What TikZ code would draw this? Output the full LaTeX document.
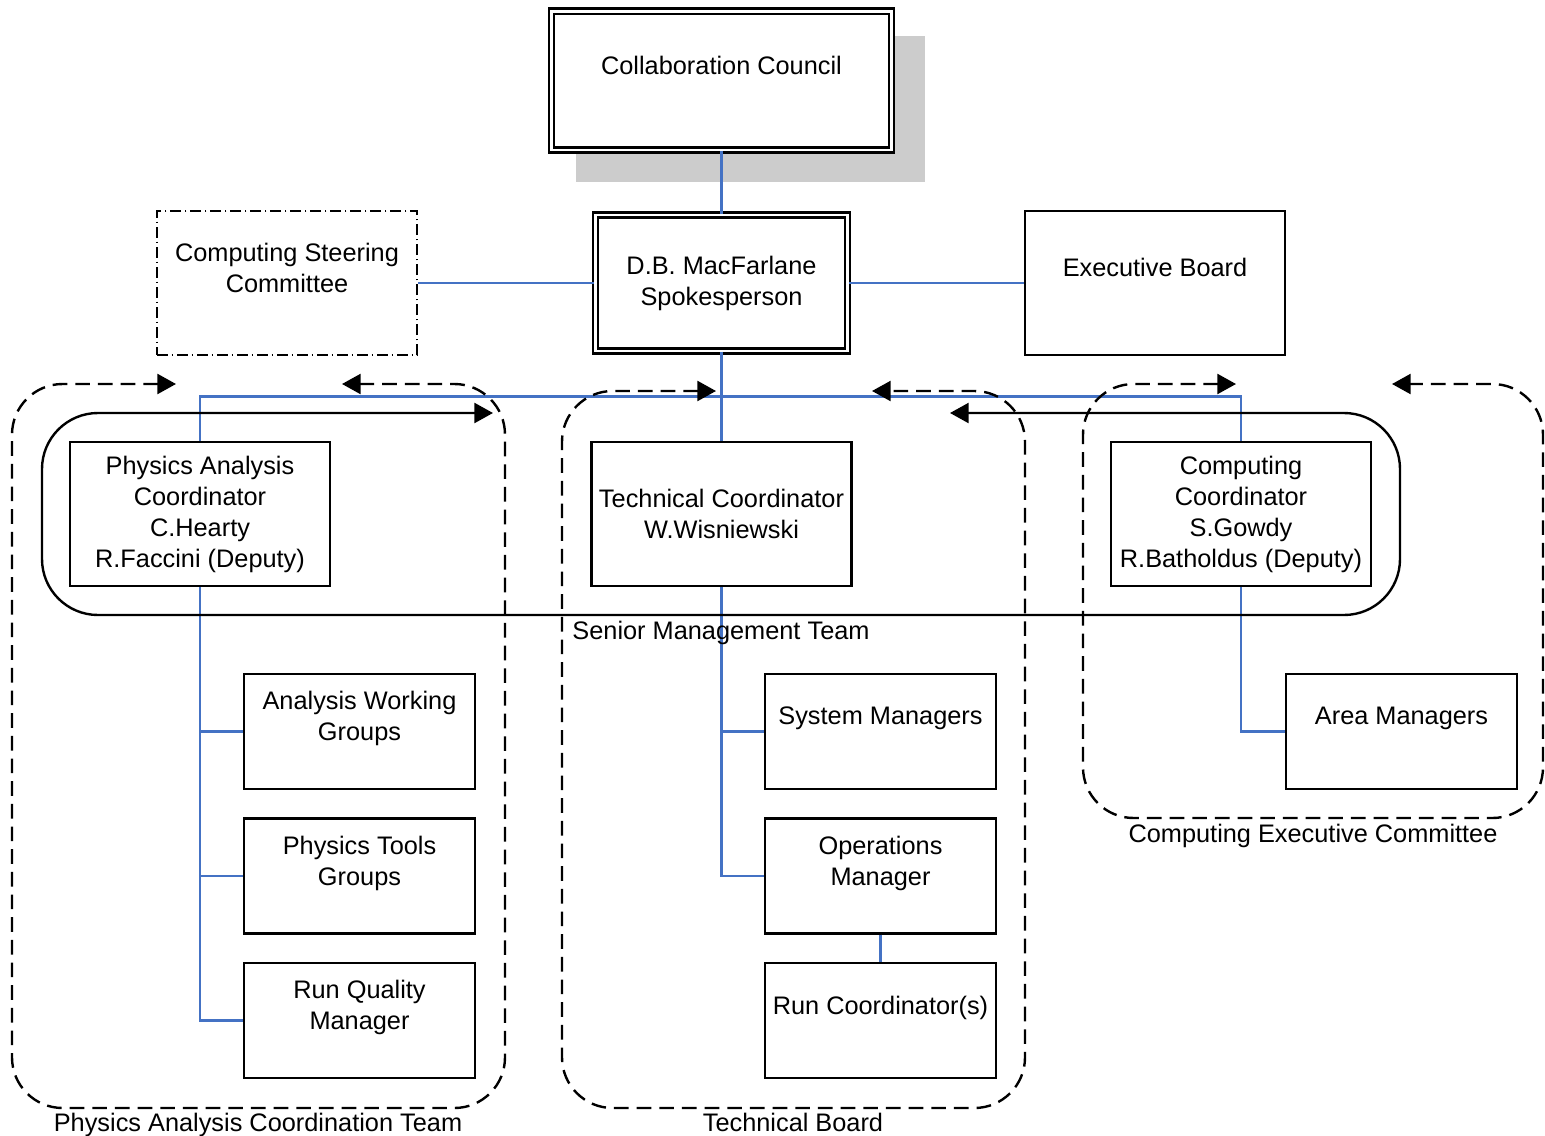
\documentclass[tikz,border=0pt]{standalone}
\usepackage{fontspec}
\setmainfont{Liberation Sans}
\usepackage{xcolor}
\usepackage{tikz}
\usetikzlibrary{arrows.meta}
\usetikzlibrary{calc}
\definecolor{linkblue}{RGB}{68,114,196}
\definecolor{shadowgray}{RGB}{204,204,204}

\begin{document}
\begin{tikzpicture}[x=0.75pt,y=0.75pt,yscale=-1,xscale=1,
  font=\fontsize{19}{23.25}\selectfont,
  box/.style={draw, line width=1.8pt, fill=white, minimum width=195pt, minimum height=108pt, inner sep=1pt, align=center},
  subbox/.style={box, minimum width=173.25pt, minimum height=86.25pt},
  dblbox/.style={draw, line width=1.9pt, double, double distance=2pt, fill=white, inner sep=1pt, align=center},
  link/.style={draw=linkblue, line width=1.6pt},
  tip/.tip={Triangle[length=14pt,width=15pt]},
  smtloop/.style={line width=1.8pt, rounded corners=42pt, tip-tip},
  grouploop/.style={line width=1.8pt, dash pattern=on 11pt off 6pt, rounded corners=38pt, tip-tip},
  grouplabel/.style={anchor=base, inner sep=0pt}]
\useasboundingbox (0,0) rectangle (1545,1135);

% shadow behind the council
\fill[shadowgray] (576,36) rectangle (925,182);

% boxes
\node[dblbox, minimum width=255pt, minimum height=104pt] (council) at (721.5,80.5) {Collaboration Council\\ \mbox{}};
\node[dblbox, minimum width=189pt, minimum height=102pt] (spokes) at (721.5,283) {D.B. MacFarlane\\Spokesperson};
\node[box, dash pattern=on 8pt off 3pt on 1pt off 3pt] (steering) at (287,283) {Computing Steering\\Committee\\ \mbox{}};
\node[box] (exec) at (1155,283) {Executive Board\\ \mbox{}};
\node[box] (physcoord) at (200,514) {Physics Analysis\\Coordinator\\C.Hearty\\R.Faccini (Deputy)};
\node[box] (techcoord) at (721.5,514) {Technical Coordinator\\W.Wisniewski};
\node[box] (compcoord) at (1241,514) {Computing\\Coordinator\\S.Gowdy\\R.Batholdus (Deputy)};
\node[subbox] (awg) at (359.5,731.5) {Analysis Working\\Groups\\ \mbox{}};
\node[subbox] (ptg) at (359.5,876) {Physics Tools\\Groups\\ \mbox{}};
\node[subbox] (rqm) at (359.5,1020.5) {Run Quality\\Manager\\ \mbox{}};
\node[subbox] (sysmgr) at (880.5,731.5) {System Managers\\ \mbox{}};
\node[subbox] (opsmgr) at (880.5,876) {Operations\\Manager\\ \mbox{}};
\node[subbox] (runcoord) at (880.5,1020.5) {Run Coordinator(s)\\ \mbox{}};
\node[subbox] (areamgr) at (1401.5,731.5) {Area Managers\\ \mbox{}};

% reporting lines
\draw[link] (council.south) -- (spokes.north);
\draw[link] (steering.east) -- (spokes.west);
\draw[link] (spokes.east) -- (exec.west);
\draw[link] (spokes.south) -- (techcoord.north);
\coordinate (bus) at ($(spokes.south)!0.5!(techcoord.north)$);
\draw[link] (physcoord.north) |- (bus) -| (compcoord.north);
\draw[link] (physcoord.south) |- (awg.west);
\draw[link] (physcoord.south) |- (ptg.west);
\draw[link] (physcoord.south) |- (rqm.west);
\draw[link] (techcoord.south) |- (sysmgr.west);
\draw[link] (techcoord.south) |- (opsmgr.west);
\draw[link] (opsmgr.south) -- (runcoord.north);
\draw[link] (compcoord.south) |- (areamgr.west);

% groupings
\draw[smtloop] (493,413) -- (42,413) -- (42,615) -- (1400,615) -- (1400,413) -- (950,413);
\draw[grouploop] (176,384) -- (12,384) -- (12,1108) -- (505,1108) -- (505,384) -- (342,384);
\draw[grouploop] (716,391) -- (562,391) -- (562,1108) -- (1025,1108) -- (1025,391) -- (872,391);
\draw[grouploop] (1236,384) -- (1083,384) -- (1083,818) -- (1543,818) -- (1543,384) -- (1392,384);

\node[grouplabel] (smtlabel) at (721,639) {Senior Management Team};
\node[grouplabel] (pactlabel) at (258,1131) {Physics Analysis Coordination Team};
\node[grouplabel] (tblabel) at (793,1131) {Technical Board};
\node[grouplabel] (cexlabel) at (1313,842) {Computing Executive Committee};
\end{tikzpicture}
\end{document}
